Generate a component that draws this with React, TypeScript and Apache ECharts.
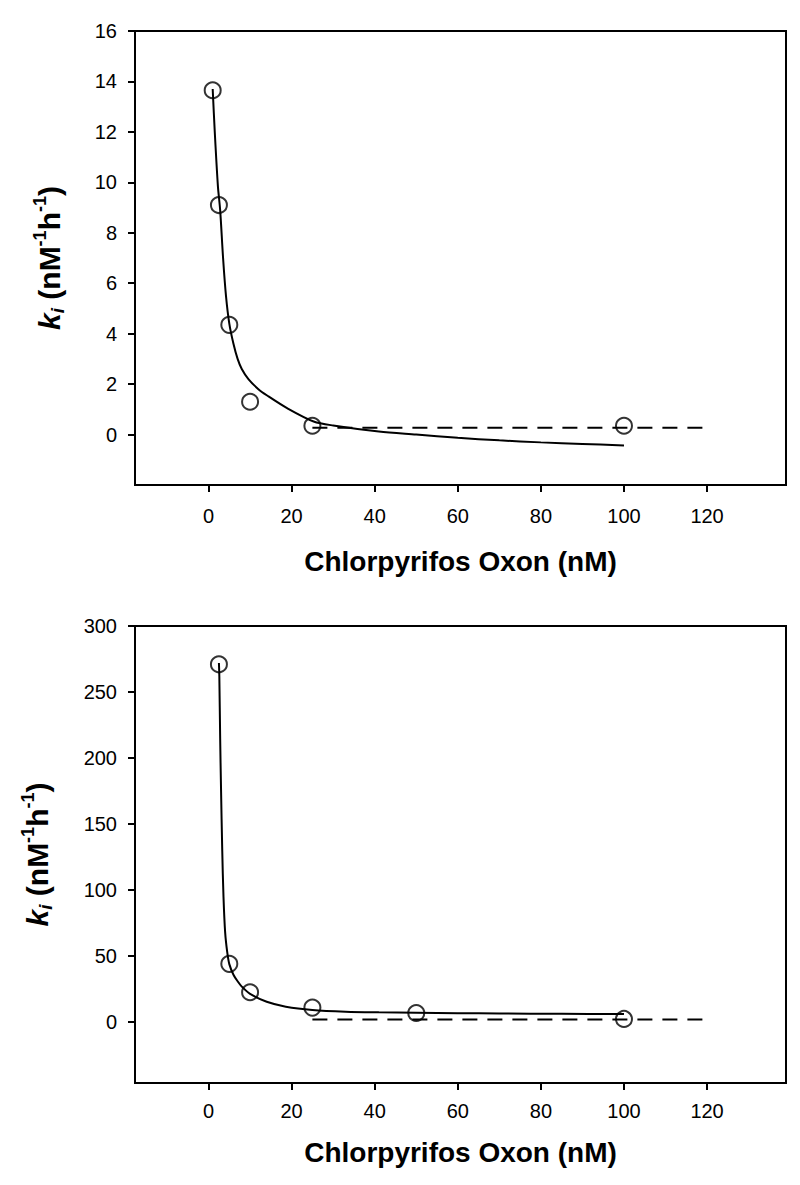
import React, { useEffect, useRef } from "react";
import * as echarts from "echarts";

// ---- Top panel data ----
const topPointsX = [1, 2.5, 5, 10, 25, 100];
const topPointsY = [13.65, 9.1, 4.35, 1.3, 0.35, 0.35];
const topCurveX = [1, 1.5, 2.26, 2.8, 3.5, 4.2, 5, 6, 7, 8, 9.6, 12, 14.1, 18.9, 25.3, 30, 41, 50, 60, 70, 80, 90, 100];
const topCurveY = [13.7, 12.0, 9.84, 8.9, 7.0, 5.5, 4.4, 3.6, 3.0, 2.6, 2.2, 1.8, 1.55, 1.05, 0.52, 0.36, 0.12, 0.0, -0.13, -0.23, -0.31, -0.37, -0.43];
const topDashX = [25, 120];
const topDashY = [0.27, 0.27];
const topYTicks = [0, 2, 4, 6, 8, 10, 12, 14, 16];

// ---- Bottom panel data ----
const botPointsX = [2.5, 5, 10, 25, 50, 100];
const botPointsY = [271, 44.2, 22.7, 11.1, 7, 2.5];
const botCurveX = [2.5, 2.6, 2.8, 3.0, 3.3, 3.6, 4.0, 4.5, 5, 6, 7, 8, 10, 14, 18.6, 25, 33, 41, 50, 60, 70, 85, 100];
const botCurveY = [272, 262, 215, 178, 130, 95, 68, 53, 44, 36, 31, 27, 21.5, 15.5, 11.8, 9.3, 8.0, 7.5, 7.2, 6.9, 6.6, 6.4, 6.2];
const botDashX = [25, 120];
const botDashY = [2, 2];
const botYTicks = [0, 50, 100, 150, 200, 250, 300];

const xTicks = [0, 20, 40, 60, 80, 100, 120];
const xTitle = "Chlorpyrifos Oxon (nM)";

const FONT = "Liberation Sans, Arial, sans-serif";

const zip = (xs: number[], ys: number[]) => xs.map((x, i) => [x, ys[i]]);

export default function App() {
  const ref = useRef<HTMLDivElement>(null);
  useEffect(() => {
    if (!ref.current) return;
    const chart = echarts.init(ref.current, undefined, { renderer: "svg" });
    const yName = "{k|k}{i|i}{n| (nM}{s|-1}{n|h}{s|-1}{n|)}";
    const yRich = {
      k: { fontSize: 30, fontWeight: "bold", fontStyle: "italic", fontFamily: FONT, color: "#000", lineHeight: 36 },
      i: { fontSize: 19, fontWeight: "bold", fontStyle: "italic", fontFamily: FONT, color: "#000", verticalAlign: "bottom" },
      n: { fontSize: 30, fontWeight: "bold", fontFamily: FONT, color: "#000", lineHeight: 36 },
      s: { fontSize: 18, fontWeight: "bold", fontFamily: FONT, color: "#000", verticalAlign: "top" },
    };
    const grids = [
      { left: 135, right: 14, top: 31, height: 454, show: true, borderColor: "#000", borderWidth: 2 },
      { left: 135, right: 14, top: 626, height: 457, show: true, borderColor: "#000", borderWidth: 2 },
    ];
    const mkX = (gi: number, gap: number, margin: number) => ({
      type: "value",
      gridIndex: gi,
      min: -17.7,
      max: 139,
      name: xTitle,
      nameLocation: "middle",
      nameGap: gap,
      nameTextStyle: { fontSize: 28, fontWeight: "bold", fontFamily: FONT, color: "#000" },
      axisLine: { show: true, onZero: false, lineStyle: { color: "#000", width: 2 } },
      axisTick: { show: true, inside: false, length: 7, customValues: xTicks, lineStyle: { color: "#000", width: 2 } },
      axisLabel: { customValues: xTicks, margin, fontSize: 20, fontFamily: FONT, color: "#000" },
      splitLine: { show: false },
    });
    const mkY = (gi: number, min: number, max: number, ticks: number[], gap: number) => ({
      type: "value",
      gridIndex: gi,
      min,
      max,
      name: yName,
      nameLocation: "middle",
      nameRotate: 90,
      nameGap: gap,
      nameTextStyle: { rich: yRich },
      axisLine: { show: true, onZero: false, lineStyle: { color: "#000", width: 2 } },
      axisTick: { show: true, inside: false, length: 7, customValues: ticks, lineStyle: { color: "#000", width: 2 } },
      axisLabel: { customValues: ticks, margin: 18, fontSize: 20, fontFamily: FONT, color: "#000" },
      splitLine: { show: false },
    });
    const curve = (gi: number, data: number[][]) => ({
      type: "line",
      xAxisIndex: gi,
      yAxisIndex: gi,
      data,
      showSymbol: false,
      symbol: "none",
      smooth: 0.3,
      lineStyle: { color: "#000", width: 2 },
      z: 2,
    });
    const dash = (gi: number, data: number[][]) => ({
      type: "line",
      xAxisIndex: gi,
      yAxisIndex: gi,
      data,
      symbol: "none",
      lineStyle: { color: "#000", width: 2, type: [15, 10] },
      z: 2,
    });
    const pts = (gi: number, data: number[][]) => ({
      type: "scatter",
      xAxisIndex: gi,
      yAxisIndex: gi,
      data,
      symbol: "circle",
      symbolSize: 16,
      itemStyle: { color: "rgba(0,0,0,0)", borderColor: "#000", borderWidth: 2 },
      z: 3,
    });
    chart.setOption({
      animation: false,
      backgroundColor: "#fff",
      grid: grids,
      xAxis: [mkX(0, 62, 21), mkX(1, 55, 18)],
      yAxis: [mkY(0, -2, 16, topYTicks, 68), mkY(1, -46, 300, botYTicks, 80)],
      series: [
        curve(0, zip(topCurveX, topCurveY)),
        dash(0, zip(topDashX, topDashY)),
        pts(0, zip(topPointsX, topPointsY)),
        curve(1, zip(botCurveX, botCurveY)),
        dash(1, zip(botDashX, botDashY)),
        pts(1, zip(botPointsX, botPointsY)),
      ],
    });
    return () => chart.dispose();
  }, []);
  return (
    <div
      ref={ref}
      style={{ position: "absolute", left: 0, top: 0, width: 800, height: 1185 }}
    />
  );
}
